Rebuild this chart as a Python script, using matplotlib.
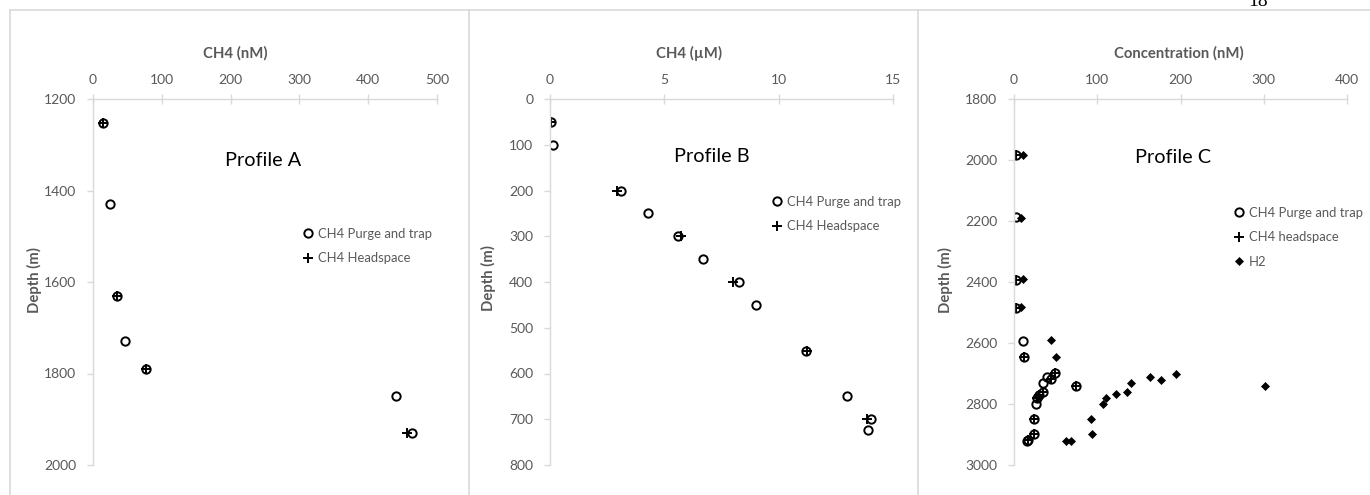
import matplotlib
matplotlib.use("Agg")
import matplotlib.pyplot as plt
from matplotlib.lines import Line2D

plt.rcParams['font.family'] = ['Lato', 'DejaVu Sans']

# ---------------- data ----------------
# Profile A  (CH4 nM vs depth m)
a_pt_x = [15, 24, 35, 47, 77, 440, 464]
a_pt_y = [1252, 1430, 1630, 1730, 1790, 1850, 1931]
a_hs_x = [15, 35, 77, 457]
a_hs_y = [1252, 1630, 1790, 1931]

# Profile B  (CH4 uM vs depth m)
b_pt_x = [0.05, 0.15, 3.1, 4.3, 5.6, 6.7, 8.25, 9.0, 11.2, 13.0, 14.05, 13.9]
b_pt_y = [50, 100, 200, 250, 300, 350, 400, 450, 550, 650, 700, 723]
b_hs_x = [0.05, 2.95, 5.75, 8.0, 11.25, 13.85]
b_hs_y = [50, 200, 300, 400, 550, 700]

# Profile C  (concentration nM vs depth m)
c_pt_x = [3, 2, 3, 2, 11, 12, 49, 40, 45, 35, 75, 35, 30, 28, 27, 23.5, 23.5, 17, 15.5]
c_pt_y = [1983, 2188, 2393, 2484, 2592, 2647, 2699, 2710, 2719, 2731, 2741, 2760,
          2770, 2781, 2800, 2849, 2898, 2918, 2921]
c_hs_x = [3, 3, 2, 12, 49, 45, 75, 35, 30, 28, 23.5, 23.5, 17]
c_hs_y = [1983, 2393, 2484, 2647, 2699, 2719, 2741, 2760, 2770, 2781, 2849, 2898, 2918]
c_h2_x = [11, 8, 11, 9, 44, 50, 62.5, 69, 92, 94, 107, 111, 122.5, 136, 140.5,
          163, 176.5, 194, 301]
c_h2_y = [1985, 2189, 2391, 2481, 2591, 2647, 2920, 2920, 2849, 2899, 2800, 2781,
          2768, 2762, 2731, 2711, 2721, 2702, 2741]

W, H = 1370, 495
fig = plt.figure(figsize=(W / 100, H / 100), dpi=100)

GRAY = '#595959'
LGRAY = '#d9d9d9'

def px_axes(x0, x1, ytop, ybot):
    return fig.add_axes([x0 / W, 1 - ybot / H, (x1 - x0) / W, (ybot - ytop) / H])

def style(ax, xlim, xticks, ylim, yticks, xlabel, xlab_pos, ylab_pos):
    ax.set_xlim(*xlim)
    ax.set_ylim(ylim[1], ylim[0])
    ax.set_xticks(xticks)
    ax.set_yticks(yticks)
    ax.xaxis.tick_top()
    ax.xaxis.set_label_position('top')
    for s in ['right', 'bottom']:
        ax.spines[s].set_visible(False)
    for s in ['left', 'top']:
        ax.spines[s].set_color(LGRAY)
        ax.spines[s].set_linewidth(1.0)
    ax.tick_params(axis='x', direction='inout', length=7, width=1.0, color=LGRAY,
                   labelcolor=GRAY, labelsize=10, pad=6)
    ax.tick_params(axis='y', direction='out', length=4, width=1.0, color=LGRAY,
                   labelcolor=GRAY, labelsize=10, pad=8)
    ax.set_xlabel(xlabel, fontsize=10.7, fontweight='bold', color=GRAY)
    ax.xaxis.set_label_coords(*xlab_pos)
    ax.xaxis.label.set_va('baseline')
    ax.set_ylabel('Depth (m)', fontsize=10.7, fontweight='bold', color=GRAY)
    ax.yaxis.set_label_coords(*ylab_pos)
    ax.set_facecolor('none')

circ = dict(marker='o', ls='none', ms=6, mfc='none', mec='black', mew=1.4)
plus = dict(marker='+', ls='none', ms=7, mec='black', mew=1.4)
diam = dict(marker='D', ls='none', ms=4.5, mfc='black', mec='black', mew=0.5)

leg_kw = dict(frameon=False, fontsize=9.4, labelcolor=GRAY, handlelength=0.8,
              handletextpad=0.35, labelspacing=0.95, borderpad=0, borderaxespad=0,
              loc='upper left')

XL_Y = (465 - 58) / 366

# Panel A
axA = px_axes(93, 437, 99, 465)
axA.plot(a_pt_x, a_pt_y, label='CH4 Purge and trap', **circ)
axA.plot(a_hs_x, a_hs_y, label='CH4 Headspace', **plus)
style(axA, (0, 500), [0, 100, 200, 300, 400, 500], (1200, 2000),
      [1200, 1400, 1600, 1800, 2000], 'CH4 (nM)', (0.413, XL_Y), (-0.148, 0.505))
axA.text(0.494, 0.833, 'Profile A', transform=axA.transAxes, fontsize=14.3,
         ha='center', va='center', color='black')
axA.legend(bbox_to_anchor=((303 - 93) / 344, (465 - 228) / 366), **leg_kw)

# Panel B
axB = px_axes(550, 893, 99, 465)
axB.plot(b_pt_x, b_pt_y, label='CH4 Purge and trap', **circ)
axB.plot(b_hs_x, b_hs_y, label='CH4 Headspace', **plus)
style(axB, (0, 15), [0, 5, 10, 15], (0, 800),
      [0, 100, 200, 300, 400, 500, 600, 700, 800], 'CH4 (\u00b5M)', (0.405, XL_Y),
      (-0.157, 0.51))
axB.text(0.471, 0.842, 'Profile B', transform=axB.transAxes, fontsize=14.3,
         ha='center', va='center', color='black')
axB.legend(bbox_to_anchor=((772 - 550) / 343, (465 - 196) / 366), **leg_kw)

# Panel C
axC = px_axes(1014, 1347, 99, 465)
axC.plot(c_pt_x, c_pt_y, label='CH4 Purge and trap', **circ)
axC.plot(c_hs_x, c_hs_y, label='CH4 headspace', **plus)
axC.plot(c_h2_x, c_h2_y, label='H2', **diam)
style(axC, (0, 400), [0, 100, 200, 300, 400], (1800, 3000),
      [1800, 2000, 2200, 2400, 2600, 2800, 3000], 'Concentration (nM)', (0.496, XL_Y),
      (-0.183, 0.505))
axC.text(0.477, 0.839, 'Profile C', transform=axC.transAxes, fontsize=14.3,
         ha='center', va='center', color='black')
axC.legend(bbox_to_anchor=((1234 - 1014) / 333, (465 - 207) / 366), **leg_kw)

# chart box borders
def fline(x0, y0, x1, y1):
    fig.add_artist(Line2D([x0 / W, x1 / W], [1 - y0 / H, 1 - y1 / H],
                          color=LGRAY, lw=1.2, transform=fig.transFigure))

fline(10, 10, W, 10)
fline(10, 10, 10, H)
fline(469, 10, 469, H)
fline(918, 10, 918, H)

# page number (partly cut off at the top, as in the source page)
fig.text(1258 / W, 1 - 6 / H, '18', fontsize=14, family='Liberation Serif',
         ha='center', va='baseline', color='black')

fig.savefig('out.png', dpi=100)
